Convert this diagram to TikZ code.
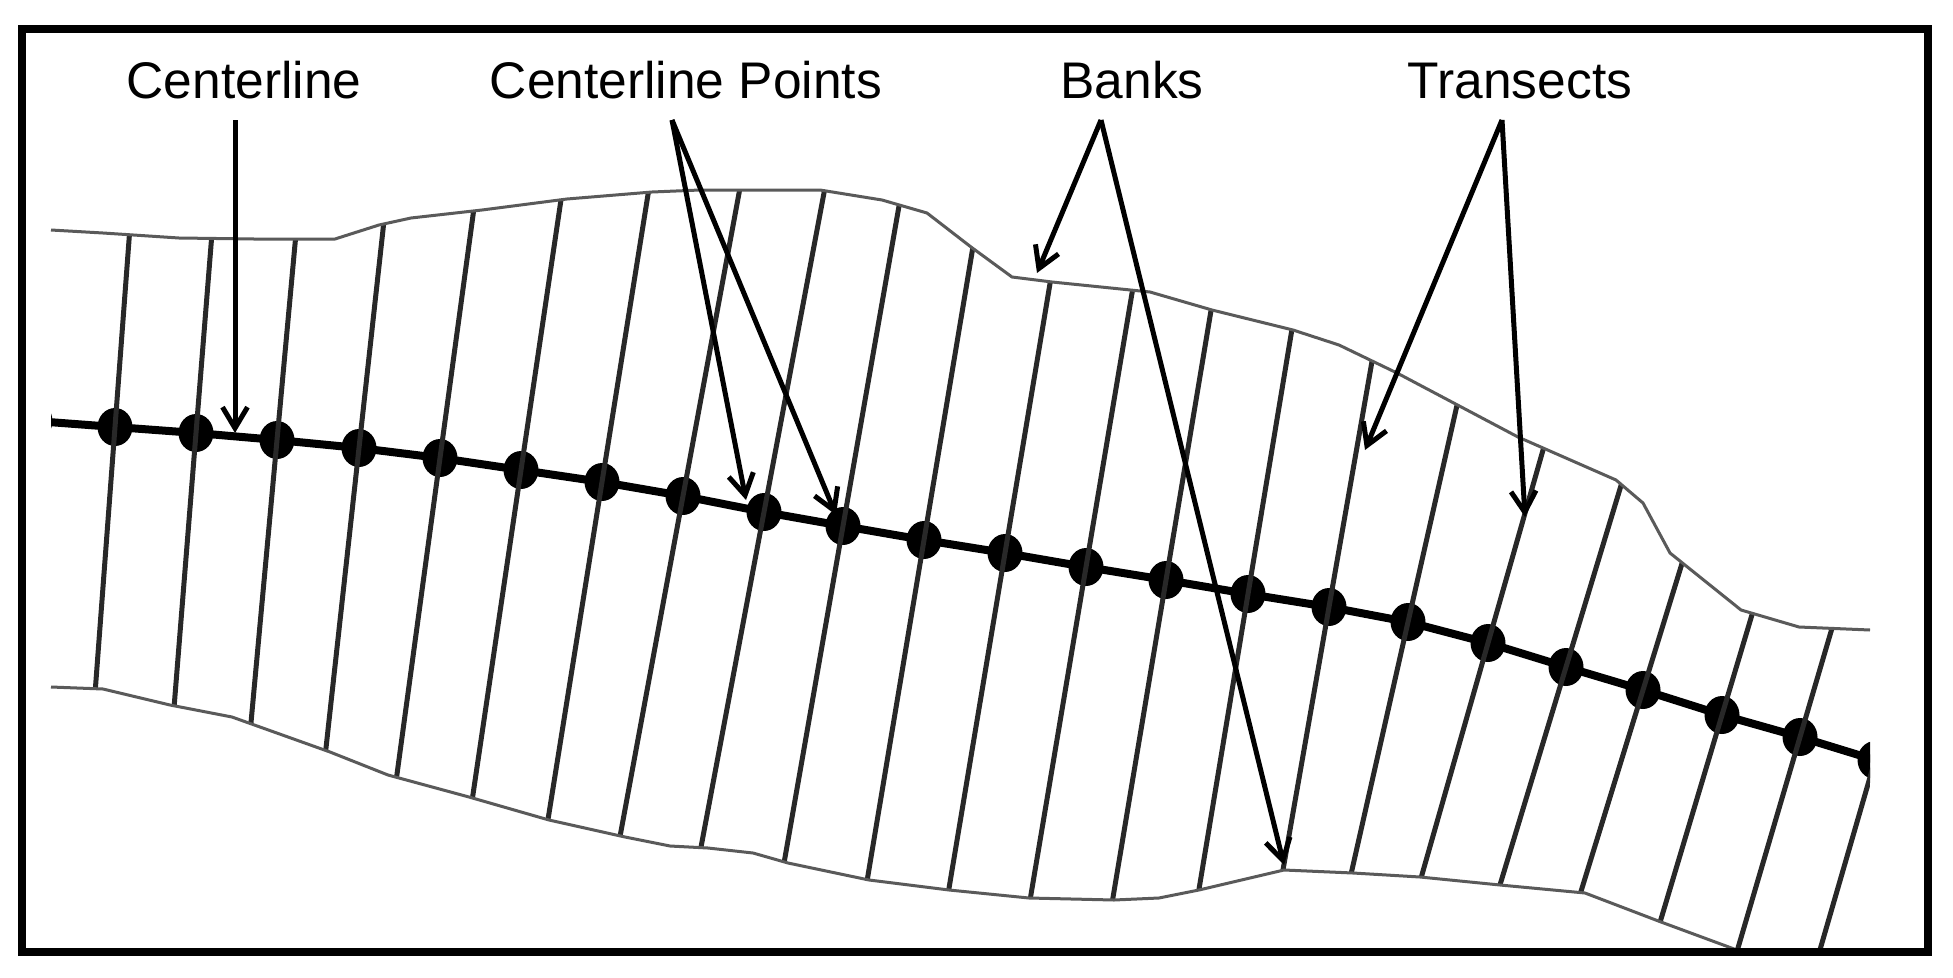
\documentclass[tikz,border=0pt]{standalone}
\usepackage{fontspec}
\setmainfont{Liberation Sans}
\usetikzlibrary{arrows.meta,shapes.geometric}
\definecolor{bankgray}{RGB}{90,90,90}
\definecolor{tcolor}{RGB}{40,40,40}
\begin{document}
\begin{tikzpicture}[x=1pt,y=-1pt,
  lbl/.style={anchor=base, inner sep=0pt, font=\fontsize{51.5}{60}\selectfont},
  callout/.style={line width=5pt, -{Straight Barb[length=21pt,width=25pt]}},
  bank/.style={draw=bankgray, line width=3pt, line join=round},
  transect/.style={draw=tcolor, line width=5pt},
  cline/.style={draw=black, line width=8pt, line join=round},
  cdot/.style={ellipse, fill=black, minimum width=35pt, minimum height=38pt, inner sep=0pt}
]
\useasboundingbox (0,0) rectangle (1953,977);
\fill[white] (0,0) rectangle (1953,977);

\begin{scope}
\clip (51,230) -- (103,233) -- (179,238) -- (254,239) -- (335,239) -- (379,225) -- (411,218) -- (482,210) -- (567,199) -- (652,192) -- (700,190) -- (820,190) -- (882,200) -- (927,213) -- (971,247) -- (1012,277) -- (1052,282) -- (1150,292) -- (1212,310) -- (1293,330) -- (1339,345) -- (1397,373) -- (1518,437) -- (1616,480) -- (1643,503) -- (1670,553) -- (1741,610) -- (1799,627) -- (1870,630)
  -- (1870,953) -- (1745,953)
  -- (1661,922) -- (1585,893) -- (1500,885) -- (1420,877) -- (1353,873) -- (1284,870) -- (1199,890) -- (1159,898) -- (1114,900) -- (1029,898) -- (949,890) -- (869,880) -- (788,863) -- (753,853) -- (708,848) -- (670,846) -- (625,837) -- (549,820) -- (469,797) -- (388,775) -- (330,752) -- (232,717) -- (170,705) -- (103,689) -- (51,687) -- cycle;

\draw[cline] (35,421) -- (115,427) -- (196,433) -- (277,440) -- (359,448) -- (440,458) -- (521,470) -- (602,482) -- (683,496) -- (764,512) -- (843,526) -- (924,540) -- (1005,553) -- (1086,567) -- (1166,580) -- (1248,594) -- (1329,607) -- (1408,622) -- (1488,643) -- (1566,667) -- (1643,690) -- (1722,715) -- (1800,737) -- (1875,760) -- (1960,784);

\foreach \i/\x/\y/\s in {m/35/421/0.07, 0/115/427/0.075, 1/196/433/0.080, 2/277/440/0.092, 3/359/448/0.110, 4/440/458/0.136, 5/521/470/0.148, 6/602/482/0.160, 7/683/496/0.185, 8/764/512/0.188, 9/843/526/0.175, 10/924/540/0.167, 11/1005/553/0.167, 12/1086/567/0.168, 13/1166/580/0.167, 14/1248/594/0.166, 15/1329/607/0.175, 16/1408/622/0.226, 17/1488/643/0.285, 18/1566/667/0.303, 19/1643/690/0.308, 20/1722/715/0.299, 21/1800/737/0.294, 22/1875/760/0.29}{
  \node[cdot] (d\i) at (\x,\y) {};
  \draw[transect] ({\x+\s*600},{\y-600}) -- ({\x-\s*600},{\y+600});
}
\end{scope}

\draw[bank] (51,230) -- (103,233) -- (179,238) -- (254,239) -- (335,239) -- (379,225) -- (411,218) -- (482,210) -- (567,199) -- (652,192) -- (700,190) -- (820,190) -- (882,200) -- (927,213) -- (971,247) -- (1012,277) -- (1052,282) -- (1150,292) -- (1212,310) -- (1293,330) -- (1339,345) -- (1397,373) -- (1518,437) -- (1616,480) -- (1643,503) -- (1670,553) -- (1741,610) -- (1799,627) -- (1870,630);
\draw[bank] (51,687) -- (103,689) -- (170,705) -- (232,717) -- (330,752) -- (388,775) -- (469,797) -- (549,820) -- (625,837) -- (670,846) -- (708,848) -- (753,853) -- (788,863) -- (869,880) -- (949,890) -- (1029,898) -- (1114,900) -- (1159,898) -- (1199,890) -- (1284,870) -- (1353,873) -- (1420,877) -- (1500,885) -- (1585,893) -- (1661,922) -- (1745,953);

\node[lbl] (lcl) at (244,98) {Centerline};
\node[lbl] (lcp) at (686,98) {Centerline Points};
\node[lbl] (lbk) at (1132,98) {Banks};
\node[lbl] (ltr) at (1520,98) {Transects};

\coordinate (clA) at (235,120);
\coordinate (clT) at (235,433);
\coordinate (cpA) at (672,120);
\coordinate (cpT1) at (746,500);
\coordinate (cpT2) at (836,515);
\coordinate (bkA) at (1101,120);
\coordinate (bkT1) at (1037,273);
\coordinate (bkT2) at (1284,865);
\coordinate (trA) at (1502,120);
\coordinate (trT1) at (1365,450);
\coordinate (trT2) at (1525,517);

\draw[callout] (clA) -- (clT);
\draw[callout] (cpA) -- (cpT1);
\draw[callout] (cpA) -- (cpT2);
\draw[callout] (bkA) -- (bkT1);
\draw[callout] (bkA) -- (bkT2);
\draw[callout] (trA) -- (trT1);
\draw[callout] (trA) -- (trT2);

\draw[line width=8pt] (22,29) rectangle (1928,952);
\end{tikzpicture}
\end{document}
